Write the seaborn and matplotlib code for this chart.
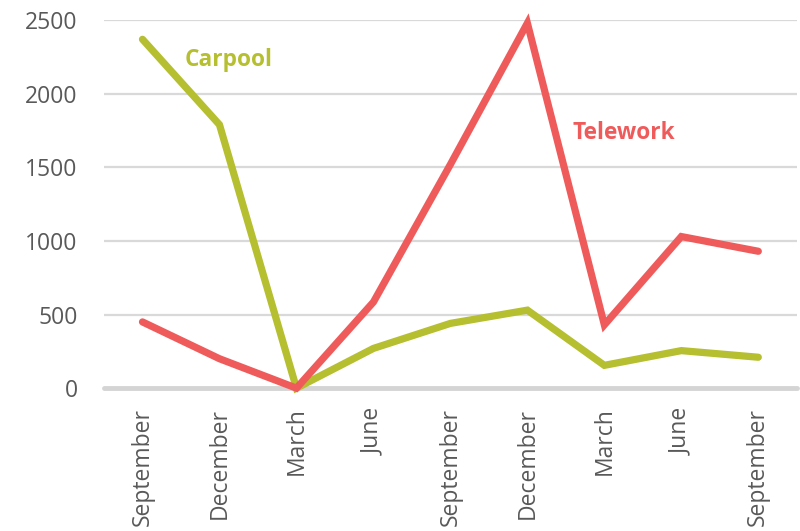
import pandas as pd
import matplotlib.pyplot as plt
import seaborn as sns

# === Dati ===
months = ["September", "December", "March", "June", "September",
          "December", "March", "June", "September"]
carpool = [2370, 1790, 0, 270, 440, 530, 155, 255, 210]
telework = [450, 200, 0, 585, 1520, 2480, 430, 1030, 930]

pos = list(range(len(months)))
df = pd.DataFrame({
    "pos": pos * 2,
    "value": carpool + telework,
    "series": ["Carpool"] * len(pos) + ["Telework"] * len(pos),
})

colors = {"Carpool": "#b5bf2f", "Telework": "#ef5b5b"}

sns.set_style("white")
plt.rcParams["font.family"] = ["Open Sans", "DejaVu Sans"]

fig, ax = plt.subplots(figsize=(8, 5.31), dpi=100)
fig.subplots_adjust(left=0.13, right=0.996, top=0.962, bottom=0.269)

for y in [500, 1000, 1500, 2000, 2500]:
    ax.axhline(y, color="#d9d9d9", lw=1.6, zorder=0)
ax.axhline(0, color="#d4d4d4", lw=3.5, zorder=0, clip_on=False)

sns.lineplot(data=df, x="pos", y="value", hue="series", palette=colors,
             linewidth=5.2, legend=False, ax=ax, clip_on=False)
for line in ax.lines:
    line.set_solid_joinstyle("miter")

ax.text(0.55, 2230, "Carpool", color=colors["Carpool"], fontsize=16.3,
        fontweight="bold", va="center")
ax.text(5.58, 1735, "Telework", color=colors["Telework"], fontsize=16.3,
        fontweight="bold", va="center")

ax.set_xlim(-0.5, 8.5)
ax.set_ylim(0, 2500)
ax.set_yticks([0, 500, 1000, 1500, 2000, 2500])
ax.set_xticks(pos)
ax.set_xticklabels(months, rotation=90)
ax.tick_params(axis="y", length=0, pad=19, labelsize=16.5, labelcolor="#595959")
ax.tick_params(axis="x", length=0, pad=14, labelsize=16.5, labelcolor="#595959")
ax.set_xlabel("")
ax.set_ylabel("")
sns.despine(ax=ax, left=True, bottom=True)

plt.savefig("out.png", dpi=100)
plt.close()
